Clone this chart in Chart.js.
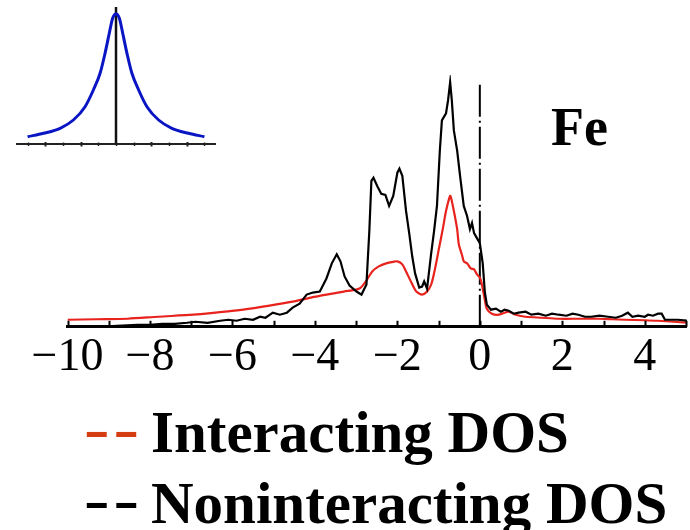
<!DOCTYPE html>
<html>
<head>
<meta charset="utf-8">
<script src="https://cdn.jsdelivr.net/npm/chart.js@4.4.1/dist/chart.umd.min.js"></script>
<style>
html, body { margin: 0; padding: 0; background: #fff; }
#wrap { position: relative; width: 690px; height: 530px; overflow: hidden; background: #fff; }
#main, #inset { position: absolute; left: 0; top: 0; }
.txt { position: absolute; font-family: "Liberation Serif", "Times New Roman", serif; font-weight: bold; white-space: nowrap; color: #000; }
</style>
</head>
<body>
<div id="wrap">
  <canvas id="main" width="690" height="530"></canvas>
  <canvas id="inset" width="230" height="160"></canvas>
  <div class="txt" id="element" style="left:551px; top:100px; font-size:54px; line-height:54px;"></div>
  <div id="legend"></div>
</div>
<script>
// Density of states of Fe, energy (eV) vs DOS (arb. units)
const elementName = 'Fe';

const nonInteractingDOS = [
  [-9.2,0.0],[-8.8,0.01],[-8.3,0.02],[-8.0,0.02],[-7.7,0.03],[-7.4,0.03],[-7.1,0.04],[-6.9,0.05],
  [-6.6,0.04],[-6.3,0.06],[-6.1,0.07],[-5.9,0.06],[-5.7,0.08],[-5.5,0.07],[-5.33,0.10],[-5.2,0.09],
  [-5.02,0.14],[-4.85,0.12],[-4.68,0.14],[-4.54,0.19],[-4.37,0.23],[-4.2,0.32],[-4.05,0.34],[-3.88,0.35],
  [-3.72,0.48],[-3.59,0.63],[-3.47,0.72],[-3.38,0.65],[-3.28,0.50],[-3.16,0.41],[-2.99,0.35],[-2.87,0.32],
  [-2.75,0.42],[-2.68,0.95],[-2.63,1.45],[-2.58,1.48],[-2.48,1.39],[-2.39,1.32],[-2.29,1.31],[-2.2,1.20],
  [-2.1,1.30],[-2.0,1.53],[-1.95,1.57],[-1.88,1.50],[-1.79,1.15],[-1.71,0.92],[-1.64,0.70],[-1.57,0.53],
  [-1.47,0.39],[-1.4,0.40],[-1.35,0.45],[-1.28,0.38],[-1.18,0.73],[-1.11,0.95],[-1.04,1.20],[-0.97,1.75],
  [-0.92,2.05],[-0.82,2.12],[-0.77,2.25],[-0.72,2.43],[-0.68,2.25],[-0.63,1.95],[-0.55,1.75],[-0.48,1.50],
  [-0.39,1.20],[-0.31,1.10],[-0.24,0.97],[-0.19,1.03],[-0.14,0.93],[-0.07,0.88],[0.0,0.83],[0.07,0.63],
  [0.12,0.35],[0.17,0.22],[0.27,0.17],[0.39,0.18],[0.51,0.15],[0.6,0.17],[0.7,0.16],[0.82,0.13],
  [0.94,0.14],[1.11,0.15],[1.25,0.12],[1.42,0.13],[1.6,0.11],[1.75,0.13],[1.91,0.12],[2.1,0.11],
  [2.25,0.13],[2.39,0.12],[2.55,0.10],[2.7,0.10],[2.9,0.11],[3.11,0.10],[3.3,0.09],[3.45,0.11],
  [3.59,0.14],[3.7,0.10],[3.84,0.11],[4.0,0.10],[4.08,0.12],[4.2,0.11],[4.32,0.13],[4.41,0.13],
  [4.49,0.07],[4.65,0.07],[4.8,0.07],[5.04,0.06]
];

const interactingDOS = [
  [-10.0,0.07],[-9.3,0.075],[-8.54,0.08],[-7.8,0.10],[-6.95,0.12],[-6.3,0.145],[-5.74,0.17],[-5.1,0.21],
  [-4.54,0.25],[-4.1,0.29],[-3.72,0.32],[-3.3,0.35],[-2.92,0.38],[-2.75,0.46],[-2.61,0.55],[-2.45,0.60],
  [-2.27,0.63],[-2.1,0.645],[-2.0,0.65],[-1.88,0.62],[-1.79,0.55],[-1.66,0.44],[-1.54,0.35],[-1.40,0.32],
  [-1.28,0.35],[-1.18,0.42],[-1.09,0.57],[-0.99,0.78],[-0.89,0.99],[-0.82,1.15],[-0.72,1.30],[-0.68,1.25],
  [-0.63,1.15],[-0.55,0.97],[-0.51,0.82],[-0.43,0.71],[-0.39,0.65],[-0.31,0.63],[-0.22,0.58],[-0.14,0.57],
  [-0.07,0.52],[0.0,0.49],[0.05,0.42],[0.12,0.27],[0.17,0.18],[0.29,0.13],[0.46,0.12],[0.6,0.14],
  [0.7,0.15],[0.87,0.12],[1.11,0.10],[1.5,0.09],[1.91,0.08],[2.4,0.08],[2.87,0.08],[3.2,0.075],
  [3.52,0.07],[4.0,0.065],[4.32,0.06],[4.7,0.05],[5.04,0.04]
];

// Fermi level marker (E = 0)
const fermiLevel = [[0, 0], [0, 2.42]];

// Lorentzian broadening shown in the corner
const lorentzian = [
  [-5,0.073],[-4.1,0.107],[-3.16,0.157],[-2.41,0.24],[-1.75,0.373],[-1.28,0.54],[-0.9,0.707],
  [-0.62,0.907],[-0.38,1.107],[-0.19,1.257],[0,1.30],[0.19,1.257],[0.38,1.107],[0.62,0.907],
  [0.9,0.707],[1.28,0.54],[1.75,0.373],[2.41,0.24],[3.16,0.157],[4.1,0.107],[5,0.073]
];
const lorentzianCenter = [[0, 0], [0, 1.37]];

const energyRange = [-10, 5.02];
const labelledTicks = [-10, -8, -6, -4, -2, 0, 2, 4];

const legendEntries = [
  { label: 'Interacting DOS', color: '#d63c12' },
  { label: 'Noninteracting DOS', color: '#000000' }
];

const toXY = arr => arr.map(p => ({ x: p[0], y: p[1] }));
const serif = '"Liberation Serif", "Times New Roman", serif';

// short tick marks drawn from the x scale's own ticks
const axisTicks = {
  id: 'axisTicks',
  afterDatasetsDraw(chart, args, opts) {
    const sc = chart.scales.x;
    const ctx = chart.ctx;
    const y0 = chart.chartArea.bottom;
    ctx.save();
    ctx.strokeStyle = opts.color || '#000';
    sc.ticks.forEach(t => {
      const major = opts.isMajor ? opts.isMajor(t.value) : false;
      const up = major ? opts.majorUp : opts.up;
      const down = major ? opts.majorDown : opts.down;
      ctx.lineWidth = major ? opts.majorWidth : opts.width;
      const px = Math.round(sc.getPixelForValue(t.value)) + 0.5;
      ctx.beginPath();
      ctx.moveTo(px, y0 + down);
      ctx.lineTo(px, y0 - up);
      ctx.stroke();
    });
    ctx.restore();
  }
};

new Chart(document.getElementById('main'), {
  type: 'line',
  data: {
    datasets: [
      {
        label: 'Noninteracting DOS',
        data: toXY(nonInteractingDOS),
        borderColor: '#000',
        borderWidth: 2.2,
        pointRadius: 0,
        tension: 0
      },
      {
        label: 'Interacting DOS',
        data: toXY(interactingDOS),
        borderColor: '#e8221c',
        borderWidth: 2.2,
        pointRadius: 0,
        tension: 0.25
      },
      {
        label: 'Fermi level',
        data: toXY(fermiLevel),
        borderColor: '#000',
        borderWidth: 2,
        borderDash: [32, 4, 2, 4],
        pointRadius: 0
      }
    ]
  },
  options: {
    responsive: false,
    animation: false,
    layout: { padding: { left: 67.5, right: 0, top: 75, bottom: 140 } },
    plugins: {
      legend: { display: false },
      tooltip: { enabled: false },
      axisTicks: { up: 6, down: 0, majorUp: 6, majorDown: 0, width: 2, majorWidth: 2, color: '#000' }
    },
    scales: {
      x: {
        type: 'linear',
        min: energyRange[0],
        max: energyRange[1],
        grid: { display: true, drawOnChartArea: false, drawTicks: false },
        border: { display: true, color: '#000', width: 3 },
        ticks: {
          stepSize: 1,
          includeBounds: false,
          autoSkip: false,
          maxRotation: 0,
          padding: 4,
          color: '#000',
          font: { family: serif, size: 46 },
          callback: v => labelledTicks.includes(v) ? (v < 0 ? '\u2212' + Math.abs(v) : String(v)) : ''
        }
      },
      y: { display: false, min: 0, max: 2.5 }
    }
  },
  plugins: [axisTicks]
});

new Chart(document.getElementById('inset'), {
  type: 'line',
  data: {
    datasets: [
      {
        label: 'Lorentzian',
        data: toXY(lorentzian),
        borderColor: '#0a16c4',
        borderWidth: 3,
        pointRadius: 0,
        cubicInterpolationMode: 'monotone'
      },
      {
        label: 'center',
        data: toXY(lorentzianCenter),
        borderColor: '#111',
        borderWidth: 2.5,
        pointRadius: 0
      }
    ]
  },
  options: {
    responsive: false,
    animation: false,
    layout: { padding: { left: 17, right: 15, top: 7, bottom: 16 } },
    plugins: {
      legend: { display: false },
      tooltip: { enabled: false },
      axisTicks: {
        up: 1.5, down: 2, majorUp: 2, majorDown: 2.5, width: 1.5, majorWidth: 2, color: '#222',
        isMajor: v => v !== 0 && v % 2 === 0
      }
    },
    scales: {
      x: {
        type: 'linear',
        min: -5.6,
        max: 5.6,
        grid: { display: true, drawOnChartArea: false, drawTicks: false },
        border: { display: true, color: '#222', width: 2 },
        ticks: { display: false, stepSize: 1, includeBounds: false }
      },
      y: { display: false, min: 0, max: 1.37 }
    }
  },
  plugins: [axisTicks]
});

document.getElementById('element').textContent = elementName;

// legend rows: coloured dashes followed by the series name
const legend = document.getElementById('legend');
legendEntries.forEach((e, i) => {
  const top = 403 + i * 71;
  const dash = document.createElement('div');
  dash.className = 'txt';
  dash.style.cssText = `left:84px; top:${top - 4}px; font-size:59px; line-height:59px; letter-spacing:3px; transform:scaleX(1.3); transform-origin:0 0; color:${e.color};`;
  dash.textContent = '--';
  const name = document.createElement('div');
  name.className = 'txt';
  name.style.cssText = `left:151px; top:${top}px; font-size:59px; line-height:59px;`;
  name.textContent = e.label;
  legend.appendChild(dash);
  legend.appendChild(name);
});
</script>
</body>
</html>
